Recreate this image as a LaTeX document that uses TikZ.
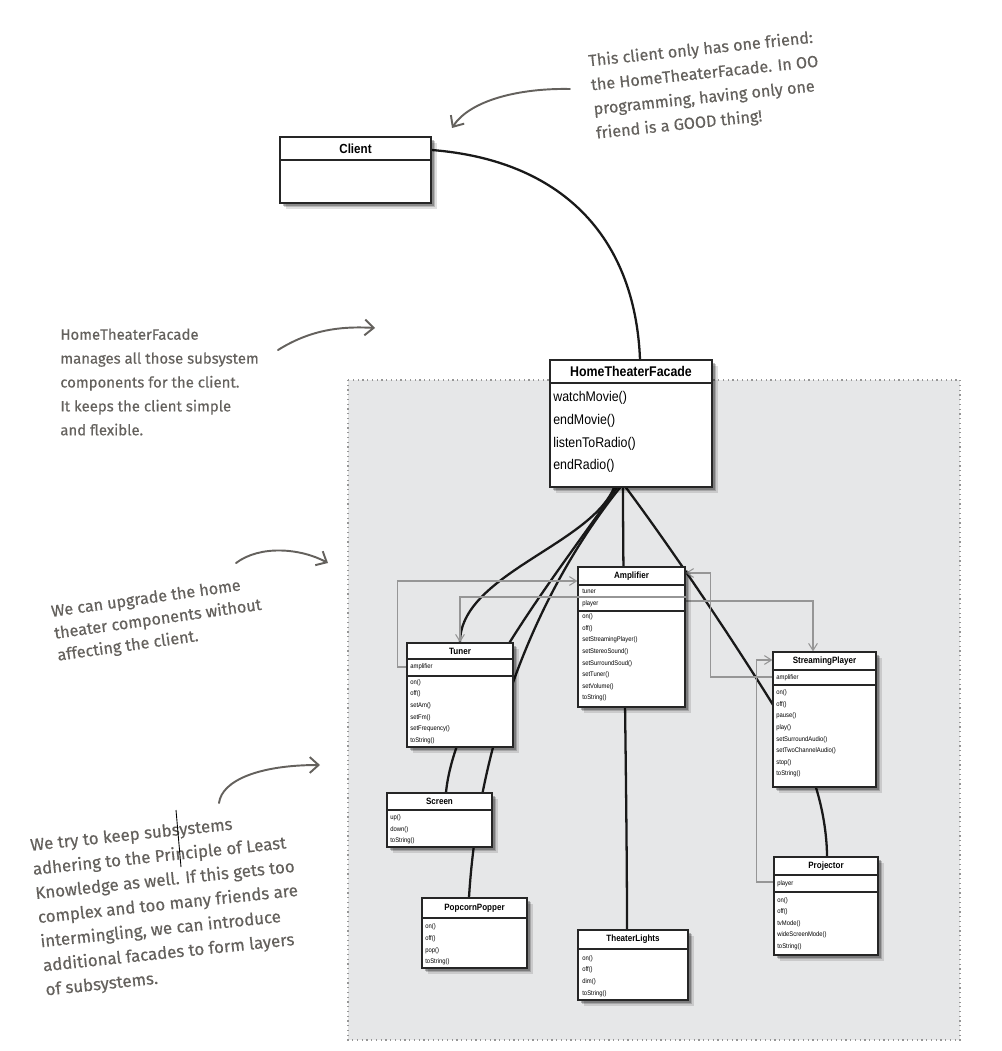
\documentclass[tikz,border=0pt]{standalone}
\usepackage{fontspec}
\usepackage{tikz}
\usetikzlibrary{arrows.meta, fit, backgrounds, shadows, positioning}
\newfontfamily\umlfont[FakeStretch=0.88]{Liberation Sans}
\newfontfamily\notefont[FakeBold=0.4]{Fira Sans}
\definecolor{notegray}{RGB}{100,97,93}
\definecolor{regionfill}{RGB}{230,231,232}
\definecolor{refgray}{RGB}{150,150,150}

\tikzset{
  classbox/.style={draw=black!85, line width=0.7pt, fill=white, inner sep=0pt,
    drop shadow={shadow xshift=3.5pt, shadow yshift=-3.5pt, opacity=0.12, fill=black},
    drop shadow={shadow xshift=2.5pt, shadow yshift=-2.5pt, opacity=0.18, fill=black},
    drop shadow={shadow xshift=1.5pt, shadow yshift=-1.5pt, opacity=0.25, fill=black}},
  rowline/.style={draw=black!85, line width=0.6pt},
  bigtitle/.style={font=\umlfont\bfseries\fontsize{8}{9}\selectfont},
  smalltitle/.style={font=\umlfont\bfseries\fontsize{5.2}{6}\selectfont},
  bigmembers/.style={font=\umlfont\fontsize{8}{13}\selectfont, align=left, anchor=west, inner sep=0pt},
  members/.style={font=\umlfont\fontsize{3.8}{6.6}\selectfont, align=left, anchor=west, inner sep=0pt},
  assoc/.style={line width=1.3pt, black!90},
  attrref/.style={draw=refgray, line width=0.6pt, -{Straight Barb[length=4pt,width=5pt]}},
  note/.style={font=\notefont\fontsize{9}{13.6}\selectfont, text=notegray, align=left, inner sep=0pt},
  notearrow/.style={draw=notegray, line width=1.1pt, line cap=round, -{Straight Barb[length=5pt,width=9pt]}}
}

\begin{document}
\begin{tikzpicture}[x=0.02cm, y=-0.02cm]
\useasboundingbox (0,0) rectangle (1001,1051);

% subsystem area
\begin{scope}[on background layer]
  \fill[regionfill] (348,380) rectangle (960,1040);
  \draw[refgray, dotted, line width=0.7pt] (348,380) rectangle (960,1040);
\end{scope}

% client
\node[classbox, fit={(280,137) (431,203)}] (client) {};
\draw[rowline] (client.west |- 0,160) -- (client.east |- 0,160);
\node[font=\umlfont\bfseries\fontsize{7.5}{9}\selectfont] at (355.5,149) {Client};

% facade
\node[classbox, fit={(550,360) (712,487)}] (facade) {};
\draw[rowline] (facade.west |- 0,383) -- (facade.east |- 0,383);
\node[bigtitle] at (631,371) {HomeTheaterFacade};
\node[bigmembers] at (553,432) {watchMovie()\\endMovie()\\listenToRadio()\\endRadio()};

% tuner
\node[classbox, fit={(407,643) (513,747)}] (tuner) {};
\draw[rowline] (tuner.west |- 0,659) -- (tuner.east |- 0,659);
\draw[rowline] (tuner.west |- 0,676) -- (tuner.east |- 0,676);
\node[smalltitle] at (460,651) {Tuner};
\node[members] at (410,667) {amplifier};
\node[members] at (410,711.5) {on()\\off()\\setAm()\\setFm()\\setFrequency()\\toString()};

% amplifier
\node[classbox, fit={(578,567) (685,707)}] (amp) {};
\draw[rowline] (amp.west |- 0,585) -- (amp.east |- 0,585);
\draw[rowline] (amp.west |- 0,611) -- (amp.east |- 0,611);
\draw[refgray, line width=0.6pt] (amp.west |- 0,597) -- (amp.east |- 0,597);
\node[smalltitle] at (631.5,576) {Amplifier};
\node[members] at (582,598.3) {tuner\\player};
\node[members] at (582,657.5) {on()\\off()\\setStreamingPlayer()\\setStereoSound()\\setSurroundSoud()\\setTuner()\\setVolume()\\toString()};

% streaming player
\node[classbox, fit={(773,652) (876,787)}] (player) {};
\draw[rowline] (player.west |- 0,670) -- (player.east |- 0,670);
\draw[rowline] (player.west |- 0,685) -- (player.east |- 0,685);
\node[smalltitle] at (824.5,661) {StreamingPlayer};
\node[members] at (776,677.5) {amplifier};
\node[members] at (776,733.5) {on()\\off()\\pause()\\play()\\setSurroundAudio()\\setTwoChannelAudio()\\stop()\\toString()};

% screen
\node[classbox, fit={(387,793) (492,847)}] (screen) {};
\draw[rowline] (screen.west |- 0,810) -- (screen.east |- 0,810);
\node[smalltitle] at (439.5,801.5) {Screen};
\node[members] at (390,829.5) {up()\\down()\\toString()};

% popcorn popper
\node[classbox, fit={(422,898) (527,968)}] (popper) {};
\draw[rowline] (popper.west |- 0,918) -- (popper.east |- 0,918);
\node[smalltitle] at (474.5,908) {PopcornPopper};
\node[members] at (425,944.5) {on()\\off()\\pop()\\toString()};

% theater lights
\node[classbox, fit={(578,930) (688,1000)}] (lights) {};
\draw[rowline] (lights.west |- 0,949) -- (lights.east |- 0,949);
\node[smalltitle] at (633,939.5) {TheaterLights};
\node[members] at (582,976) {on()\\off()\\dim()\\toString()};

% projector
\node[classbox, fit={(774,857) (878,955)}] (proj) {};
\draw[rowline] (proj.west |- 0,875) -- (proj.east |- 0,875);
\draw[rowline] (proj.west |- 0,892) -- (proj.east |- 0,892);
\node[smalltitle] at (826,866) {Projector};
\node[members] at (777,883.5) {player};
\node[members] at (777,923.5) {on()\\off()\\tvMode()\\wideScreenMode()\\toString()};

% associations and attribute references, behind the boxes
\begin{scope}[on background layer]
  \draw[assoc] (client.east |- 0,150) .. controls (560,160) and (635,235) .. (640,0 |- facade.north);
  \draw[assoc] (614,0 |- facade.south) .. controls (590,545) and (460,575) .. (tuner.north);
  \draw[assoc] (617,0 |- facade.south) .. controls (560,570) and (455,700) .. (446,0 |- screen.north);
  \draw[assoc] (620,0 |- facade.south) .. controls (530,600) and (478,750) .. (469,0 |- popper.north);
  \draw[assoc] (623,0 |- facade.south) .. controls (623,600) and (627,800) .. (627,0 |- lights.north);
  \draw[assoc] (626,0 |- facade.south) .. controls (680,560) and (760,680) .. (800,750)
    .. controls (820,785) and (827,830) .. (827,0 |- proj.north);

  \draw[attrref] (tuner.west |- 0,667) -- ++(-9,0) |- (amp.west |- 0,581);
  \draw[attrref] (amp.west |- 0,597) -| (tuner.north);
  \draw[attrref] (amp.east |- 0,601) -| (813,0 |- player.north);
  \draw[attrref] (player.west |- 0,677) -- ++(-62,0) |- (amp.east |- 0,573);
  \draw[attrref] (proj.west |- 0,882) -- ++(-17,0) |- (player.west |- 0,660);
\end{scope}

% notes
\node[note, font=\notefont\fontsize{9.2}{13.8}\selectfont, rotate=6] (friendnote) at (706,86)
  {This client only has one friend:\\the HomeTheaterFacade. In OO\\programming, having only one\\friend is a GOOD thing!};
\node[note, font=\notefont\fontsize{8.5}{13.6}\selectfont, anchor=west] (facadenote) at (60,382)
  {HomeTheaterFacade\\manages all those subsystem\\components for the client.\\It keeps the client simple\\and flexible.};
\node[note, font=\notefont\fontsize{9.2}{12.6}\selectfont, rotate=8] (upgradenote) at (158,620)
  {We can upgrade the home\\theater components without\\affecting the client.};
\node[note, font=\notefont\fontsize{9.6}{13.8}\selectfont, rotate=6] (layernote) at (168,905)
  {We try to keep subsystems\\adhering to the Principle of Least\\Knowledge as well. If this gets too\\complex and too many friends are\\intermingling, we can introduce\\additional facades to form layers\\of subsystems.};

\coordinate (friendtail) at (570,89);
\coordinate (friendtip) at (452,128);
\coordinate (facadetail) at (278,350);
\coordinate (facadetip) at (375,328);
\coordinate (upgradetail) at (236,563);
\coordinate (upgradetip) at (328,563);
\coordinate (layertail) at (219,803);
\coordinate (layertip) at (320,765);
\draw[notearrow] (friendtail) .. controls (520,88) and (470,100) .. (friendtip);
\draw[notearrow] (facadetail) .. controls (310,330) and (340,326) .. (facadetip);
\draw[notearrow] (upgradetail) .. controls (260,545) and (300,548) .. (upgradetip);
\draw[notearrow] (layertail) .. controls (222,780) and (260,765) .. (layertip);
\draw[black, line width=0.5pt] (176,810) -- (181,867);
\end{tikzpicture}
\end{document}
